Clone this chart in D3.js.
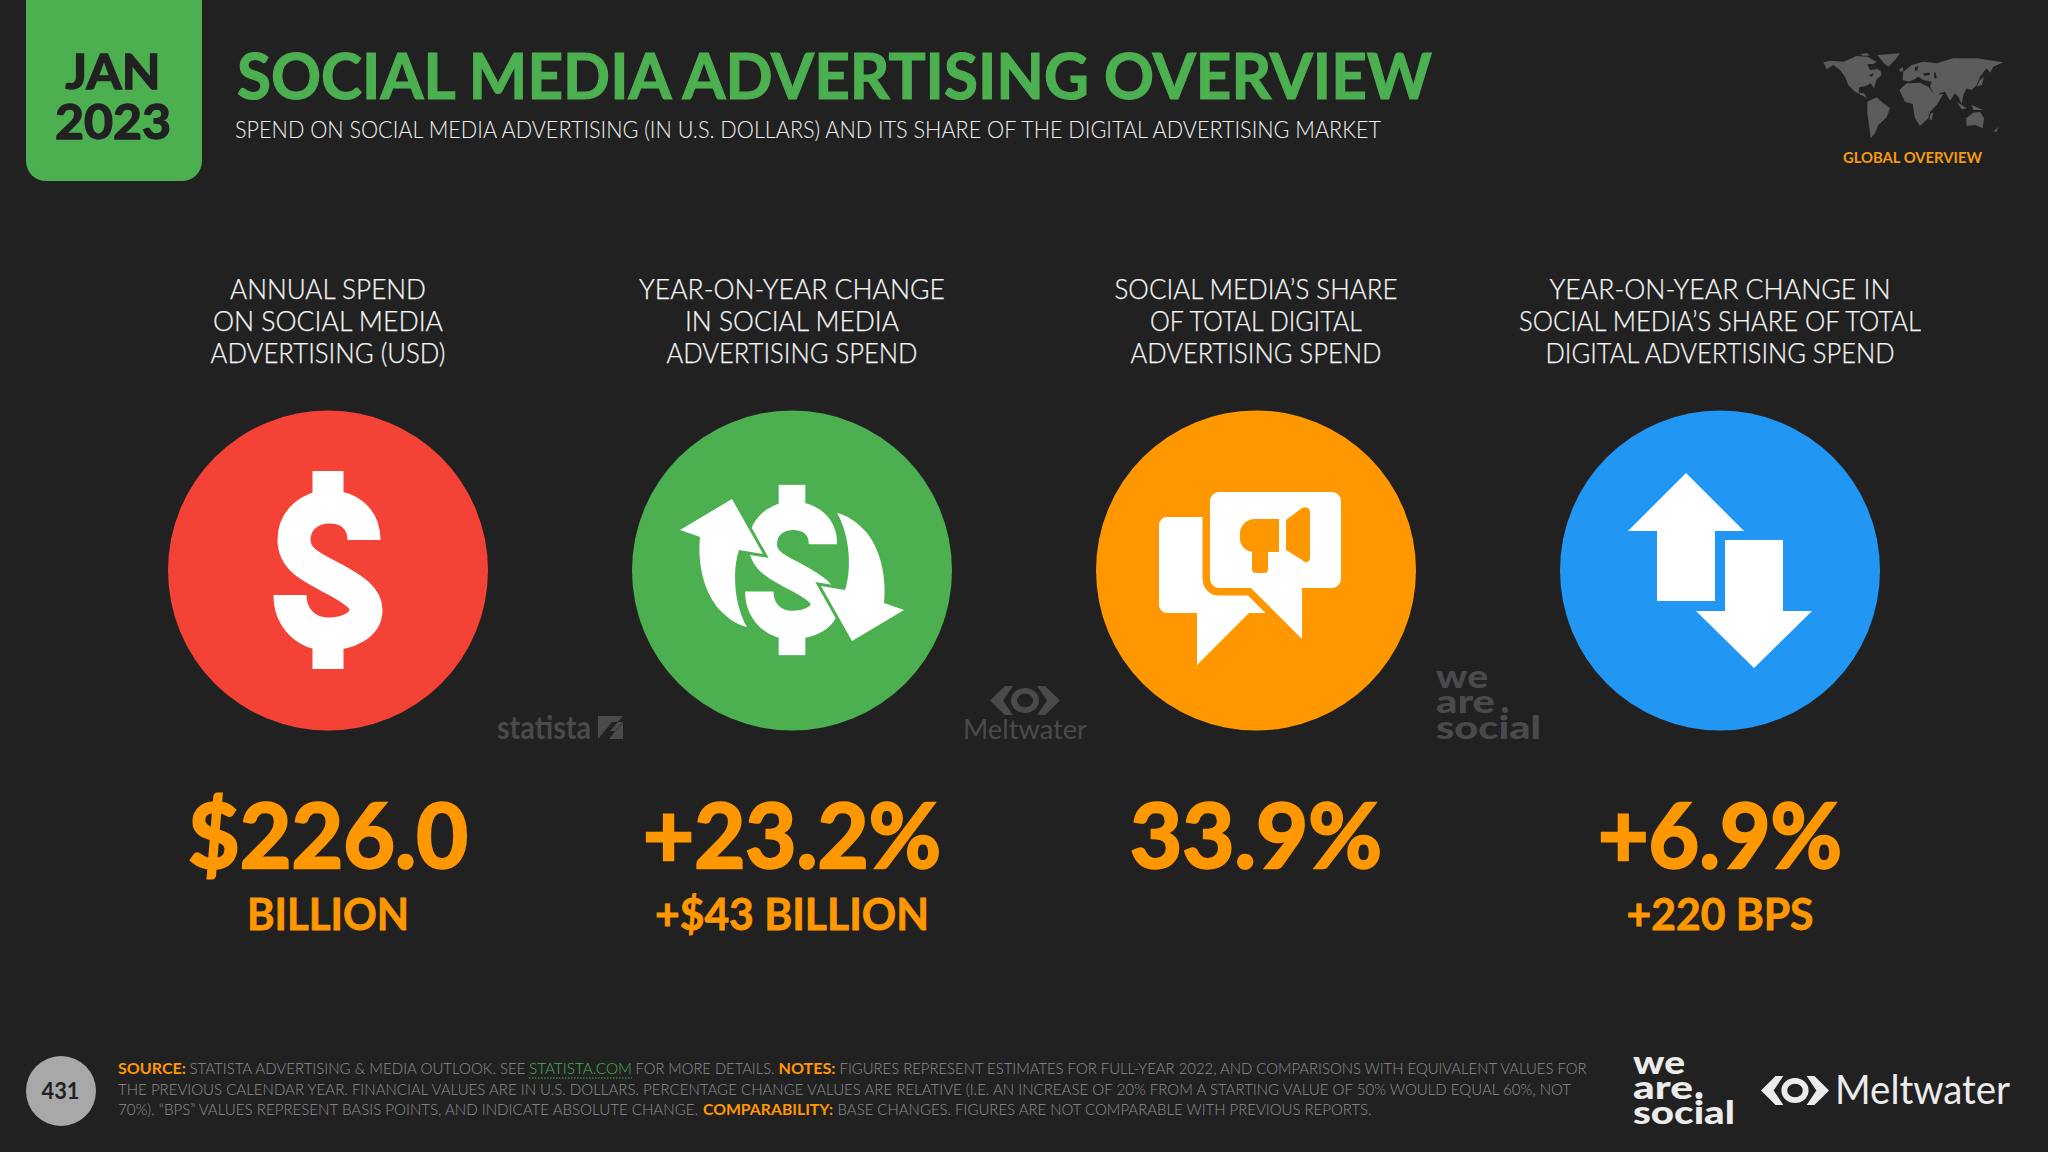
<!DOCTYPE html>
<html lang="en">
<head>
<meta charset="UTF-8">
<title>Social Media Advertising Overview</title>
<script src="https://d3js.org/d3.v7.min.js"></script>
<style>
  html, body { margin: 0; padding: 0; background: #212122; }
  svg { display: block; }
  text { font-family: Lato, "Noto Sans", sans-serif; }
</style>
</head>
<body>
<div id="chart"></div>
<script>
// chart content
const categories = ["spend", "change", "share", "shareChange"]
const headers = [
  ["ANNUAL SPEND", "ON SOCIAL MEDIA", "ADVERTISING (USD)"],
  ["YEAR-ON-YEAR CHANGE", "IN SOCIAL MEDIA", "ADVERTISING SPEND"],
  ["SOCIAL MEDIA’S SHARE", "OF TOTAL DIGITAL", "ADVERTISING SPEND"],
  ["YEAR-ON-YEAR CHANGE IN", "SOCIAL MEDIA’S SHARE OF TOTAL", "DIGITAL ADVERTISING SPEND"]
]
const values = ["$226.0", "+23.2%", "33.9%", "+6.9%"]
const subValues = ["BILLION", "+$43 BILLION", "", "+220 BPS"]
const circleColors = ["#f44336", "#4caf50", "#ff9800", "#2196f3"]

// measured widths so the substitute font takes up the same room as the original
const headerWidths = [[196, 230, 235], [306, 214, 251], [283, 212, 251], [341, 402, 349]]
const valueWidths = [280, 298, 252, 244]
const subWidths = [162, 274, 0, 187]

const GREEN = "#4caf50", ORANGE = "#ff9800", GREY = "#8f8f8f", MARK = "#4a4a4c"

const svg = d3.select("#chart").append("svg")
  .attr("width", 2048).attr("height", 1152)
  .style("background", "#212122")

function label(x, y, str, size, weight, fill, width, anchor, thicken) {
  const t = svg.append("text")
    .attr("x", x).attr("y", y)
    .attr("font-size", size).attr("font-weight", weight)
    .attr("fill", fill).attr("text-anchor", anchor || "start")
    .text(str)
  if (width) t.attr("textLength", width).attr("lengthAdjust", "spacingAndGlyphs")
  if (thicken) t.attr("stroke", fill).attr("stroke-width", thicken)
  return t
}

// header
svg.append("path")
  .attr("d", "M26,0H202V161A20,20 0 0 1 182,181H46A20,20 0 0 1 26,161Z")
  .attr("fill", GREEN)
label(113, 89, "JAN", 48, 700, "#212122", 95, "middle", 1.4)
label(113, 139, "2023", 48, 700, "#212122", 116, "middle", 1.4)
label(237, 99, "SOCIAL MEDIA ADVERTISING OVERVIEW", 64, 700, GREEN, 1195, "start", 1.2)
label(235, 138, "SPEND ON SOCIAL MEDIA ADVERTISING (IN U.S. DOLLARS) AND ITS SHARE OF THE DIGITAL ADVERTISING MARKET", 23, 300, "#f2f2f2", 1146)

// world map, outlines traced in a 780x450 space
const mapX = d3.scaleLinear().domain([0, 780]).range([1780, 2040])
const mapY = d3.scaleLinear().domain([0, 450]).range([30, 180])
const continents = [
  [[130,97],[150,92],[190,95],[215,85],[228,78],[262,80],[290,95],[280,102],[292,118],[302,122],[305,135],[290,148],[282,175],[272,160],[258,168],[238,172],[236,188],[252,190],[262,205],[245,196],[225,185],[205,165],[195,140],[180,120],[160,105],[140,118]],
  [[292,75],[360,70],[345,90],[325,110],[312,100]],
  [[240,72],[262,70],[270,76],[250,78]],
  [[262,215],[290,202],[310,220],[330,235],[320,262],[295,285],[285,310],[272,325],[268,290],[262,250]],
  [[358,180],[380,160],[420,158],[445,170],[465,195],[490,192],[470,225],[450,245],[445,265],[420,288],[405,265],[398,222],[375,215]],
  [[452,250],[460,248],[455,270],[448,268]],
  [[370,125],[395,105],[430,95],[470,100],[520,85],[590,85],[670,97],[640,110],[630,128],[620,115],[600,140],[590,165],[575,180],[560,175],[550,195],[545,222],[535,200],[525,190],[510,212],[495,185],[480,190],[470,205],[450,170],[455,155],[430,150],[415,140],[400,150],[385,155],[368,150]],
  [[558,265],[580,248],[600,245],[612,265],[608,295],[585,285],[560,288]],
  [[530,215],[560,235],[545,238]],
  [[575,225],[610,240],[580,240]],
  [[600,150],[612,140],[606,165],[590,170]],
  [[640,305],[655,290],[650,305]],
  [[358,118],[368,112],[370,124],[360,125]]
]
// inland water cut back out in the background colour
const mapHoles = [
  [[262,102],[285,102],[290,118],[270,120]],
  [[265,135],[282,130],[276,140]],
  [[430,130],[450,128],[448,136],[432,137]],
  [[462,128],[468,128],[470,145],[463,145]],
  [[405,112],[415,108],[412,122],[404,122]]
]
const mapLine = d3.line().x(d => mapX(d[0])).y(d => mapY(d[1])).curve(d3.curveLinearClosed)
svg.append("g").selectAll("path").data(continents).enter().append("path")
  .attr("d", mapLine).attr("fill", "#5c5c5c")
svg.append("g").selectAll("path").data(mapHoles).enter().append("path")
  .attr("d", mapLine).attr("fill", "#212122")
label(1912.5, 163, "GLOBAL OVERVIEW", 15, 700, "#f59a10", 139, "middle")

// columns
const xScale = d3.scalePoint().domain(categories).range([328, 1720])

headers.forEach((lines, c) => {
  lines.forEach((line, i) => {
    label(xScale(categories[c]), 299 + i * 32, line, 28, 300, "#f5f5f5", headerWidths[c][i], "middle", 0.25)
  })
})

svg.append("g").selectAll("circle").data(categories).enter().append("circle")
  .attr("cx", d => xScale(d)).attr("cy", 570.5).attr("r", 160)
  .attr("fill", (d, i) => circleColors[i])

values.forEach((v, c) => {
  label(xScale(categories[c]), 868, v, 90, 700, ORANGE, valueWidths[c], "middle", 2.5)
  if (subValues[c]) label(xScale(categories[c]), 930, subValues[c], 43, 700, ORANGE, subWidths[c], "middle", 0.8)
})

// icons
const dollarS = "M36,-30C36,-52 20,-63 1,-63C-18,-63 -34,-50 -34,-30C-34,-8 -10,0 8,10C26,20 38,28 38,40C38,55 20,64 0,64C-22,64 -38,48 -38,25"
function dollar(parent, cx, cy, k) {
  const g = parent.append("g").attr("transform", `translate(${cx},${cy}) scale(${k})`)
  g.append("path").attr("d", dollarS).attr("fill", "none").attr("stroke", "#fff").attr("stroke-width", 33)
  g.append("rect").attr("x", -15.5).attr("y", -99).attr("width", 31).attr("height", 32).attr("fill", "#fff")
  g.append("rect").attr("x", -15.5).attr("y", 67).attr("width", 31).attr("height", 32).attr("fill", "#fff")
}
dollar(svg, xScale("spend"), 570, 1)

// circular arrows round the smaller dollar
const change = svg.append("g").attr("transform", `translate(${xScale("change")},570)`)
dollar(change, 0, 0, 0.86)
const arrowPath = "M-60,-71L-112,-40L-92,-33C-94,-15 -92,15 -75,37C-65,48 -55,55 -45,57C-58,35 -60,0 -53,-20L-29,-16Z"
change.append("path").attr("d", arrowPath).attr("fill", "#fff")
  .attr("stroke", GREEN).attr("stroke-width", 6).attr("paint-order", "stroke")
change.append("path").attr("d", arrowPath).attr("transform", "rotate(180)").attr("fill", "#fff")
  .attr("stroke", GREEN).attr("stroke-width", 6).attr("paint-order", "stroke")

// speech bubbles with megaphone
const bubbles = svg.append("g").attr("transform", `translate(${xScale("share")},570)`)
bubbles.append("path")
  .attr("d", "M-89,-53H-20V18H12V43H-7L-59,95V43H-89A8,8 0 0 1 -97,35V-45A8,8 0 0 1 -89,-53Z")
  .attr("fill", "#fff")
bubbles.append("path")
  .attr("d", "M-37,-78H76A9,9 0 0 1 85,-69V9A9,9 0 0 1 76,18H46V69L-5,18H-37A9,9 0 0 1 -46,9V-69A9,9 0 0 1 -37,-78Z")
  .attr("fill", "#fff").attr("stroke", ORANGE).attr("stroke-width", 15).attr("paint-order", "stroke")
  .attr("stroke-linejoin", "round")
bubbles.append("path")
  .attr("d", "M30,-50L46,-62C50,-64 54,-62 54,-58V-12C54,-8 50,-6 46,-10L30,-20Z").attr("fill", ORANGE)
bubbles.append("path")
  .attr("d", "M-2,-51H23V-18H12V-1A4,4 0 0 1 8,3H0A4,4 0 0 1 -4,-1V-18H-2A14,14 0 0 1 -16,-34A15,15 0 0 1 -2,-51Z").attr("fill", ORANGE)

// up and down arrows
const updown = svg.append("g").attr("transform", `translate(${xScale("shareChange")},570)`).attr("fill", "#fff")
updown.append("path").attr("d", "M-34,-97L24,-39H-5V31H-63V-39H-92Z")
updown.append("path").attr("d", "M34,98L-24,41H5V-30H63V41H92Z")

// watermarks
label(497, 739, "statista", 33, 700, MARK, 94)
svg.append("rect").attr("x", 598).attr("y", 716).attr("width", 25).attr("height", 23).attr("fill", MARK)
svg.append("path").attr("d", "M598,739L612,722H623L609,739Z M623,716L610,731H616L623,723Z").attr("fill", "#212122")

function meltwaterIcon(x, y, w, h, fill) {
  const g = svg.append("g").attr("transform", `translate(${x},${y}) scale(${w / 70},${h / 30})`)
  g.append("path").attr("d", "M15,0H23L13,15L23,30H15L0,15Z").attr("fill", fill)
  g.append("path").attr("d", "M55,0H47L57,15L47,30H55L70,15Z").attr("fill", fill)
  g.append("ellipse").attr("cx", 35).attr("cy", 15).attr("rx", 11).attr("ry", 10)
    .attr("fill", "none").attr("stroke", fill).attr("stroke-width", 6)
}
meltwaterIcon(990, 686, 70, 29, MARK)
label(1025, 739, "Meltwater", 26, 400, MARK, 124, "middle")

// the logo is one text block, its lines set tighter than the font's own height
function weAreSocial(x, ys, size, widths, fill, dotX, dotR) {
  const t = svg.append("text").attr("font-size", size).attr("font-weight", 900).attr("fill", fill)
  ;["we", "are", "social"].forEach((w, i) => {
    t.append("tspan").attr("x", x).attr("y", ys[i])
      .attr("textLength", widths[i]).attr("lengthAdjust", "spacingAndGlyphs").text(w)
  })
  svg.append("circle").attr("cx", dotX).attr("cy", ys[1] - dotR).attr("r", dotR).attr("fill", fill)
}
weAreSocial(1436, [688, 713, 739], 32, [52, 59, 105], MARK, 1505, 3)

// footer
svg.append("circle").attr("cx", 61).attr("cy", 1091).attr("r", 35).attr("fill", "#a8a8a8")
label(60.5, 1099, "431", 23, 700, "#212122", 38, "middle")

const footerLines = [
  ["SOURCE:", "STATISTA ADVERTISING & MEDIA OUTLOOK. SEE", "STATISTA.COM", "FOR MORE DETAILS.", "NOTES:", "FIGURES REPRESENT ESTIMATES FOR FULL-YEAR 2022, AND COMPARISONS WITH EQUIVALENT VALUES FOR"],
  ["THE PREVIOUS CALENDAR YEAR. FINANCIAL VALUES ARE IN U.S. DOLLARS. PERCENTAGE CHANGE VALUES ARE RELATIVE (I.E. AN INCREASE OF 20% FROM A STARTING VALUE OF 50% WOULD EQUAL 60%, NOT"],
  ["70%). “BPS” VALUES REPRESENT BASIS POINTS, AND INDICATE ABSOLUTE CHANGE.", "COMPARABILITY:", "BASE CHANGES. FIGURES ARE NOT COMPARABLE WITH PREVIOUS REPORTS."]
]
const footerX = [[118, 189.5, 529, 635.5, 778.5, 839.5], [118], [118, 703, 837.5]]
const footerW = [[68, 336, 103, 139, 57, 747], [1453], [580, 130, 534]]
const footerStyle = [
  [[ORANGE, 700], [GREY, 300], [GREEN, 300], [GREY, 300], [ORANGE, 700], [GREY, 300]],
  [[GREY, 300]],
  [[GREY, 300], [ORANGE, 700], [GREY, 300]]
]
footerLines.forEach((line, l) => {
  line.forEach((seg, s) => {
    label(footerX[l][s], 1074 + l * 20.5, seg, 15.5, footerStyle[l][s][1], footerStyle[l][s][0], footerW[l][s])
  })
})
svg.append("line").attr("x1", 529).attr("x2", 632).attr("y1", 1078).attr("y2", 1078)
  .attr("stroke", GREEN).attr("stroke-width", 1).attr("stroke-dasharray", "1.5 1.5")

// footer logos
weAreSocial(1633, [1074, 1099, 1124], 33, [52, 60, 102], "#ececec", 1699, 3.5)
meltwaterIcon(1761, 1076, 68, 29, "#ececec")
label(1835, 1104, "Meltwater", 40, 400, "#ececec", 175)
</script>
</body>
</html>
